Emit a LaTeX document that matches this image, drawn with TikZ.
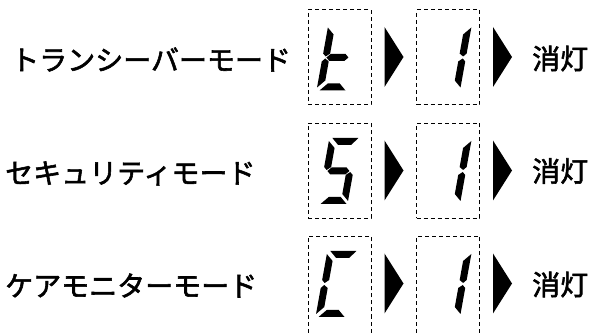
\documentclass[tikz,border=0pt]{standalone}
\usepackage{fontspec}
\newfontfamily\jpfont[FakeBold=2]{Noto Sans CJK JP}
\usetikzlibrary{positioning}

\tikzstyle{mode} = [anchor=west, inner sep=0pt, font=\jpfont\fontsize{28}{28}\selectfont]
\tikzstyle{off} = [anchor=west, inner sep=0pt, font=\jpfont\fontsize{28}{28}\selectfont]
\tikzstyle{lcdbox} = [rectangle, anchor=north, draw=black, line width=1pt,
                      dash pattern=on 4pt off 3pt, minimum width=63pt,
                      minimum height=95pt, inner sep=0pt]
\tikzstyle{lcdopen} = [lcdbox, minimum height=103pt]

% segments of one digit, 30 x 66, before the slant
\newcommand{\segA}{\fill (3,66) -- (29,66) -- (23,59) -- (10,59) -- cycle;}
\newcommand{\segB}{\fill (30,63) -- (30,37) -- (27,34) -- (23,37) -- (23,56) -- cycle;}
\newcommand{\segC}{\fill (30,29) -- (30,3) -- (23,10) -- (23,29) -- (27,32) -- cycle;}
\newcommand{\segD}{\fill (3,0) -- (29,0) -- (22,7) -- (10,7) -- cycle;}
\newcommand{\segE}{\fill (0,3) -- (0,29) -- (3,32) -- (7,29) -- (7,10) -- cycle;}
\newcommand{\segF}{\fill (0,63) -- (0,37) -- (3,34) -- (7,37) -- (7,56) -- cycle;}
\newcommand{\segG}{\fill (4,33) -- (7.5,36.5) -- (22.5,36.5) -- (26,33) -- (22.5,29.5) -- (7.5,29.5) -- cycle;}
% #1 box, #2 x offset from its top, #3 segments
\newcommand{\lcd}[3]{\begin{scope}[shift={([xshift=#2, yshift=-81pt]#1.north)}, xslant=0.18]
    #3
  \end{scope}}
\newcommand{\pointer}[1]{\fill ([xshift=13pt, yshift=-17.5pt]#1.north east)
    -- ([xshift=32pt, yshift=-47.5pt]#1.north east)
    -- ([xshift=13pt, yshift=-77.5pt]#1.north east) -- cycle;}

\begin{document}
\begin{tikzpicture}[x=1pt, y=1pt]
    \clip (0,0) rectangle (589,332);

    \node[mode] (trans) at (11,272.5) {トランシーバーモード};
    \node[mode] (secur) at (5,158.5) {セキュリティモード};
    \node[mode] (care) at (5,46.5) {ケアモニターモード};

    \node[lcdbox] (b1a) at (339.5,322.5) {};
    \node[lcdbox] (b2a) at (448,322.5) {};
    \node[lcdbox] (b1b) at (339.5,209) {};
    \node[lcdbox] (b2b) at (448,209) {};
    \node[lcdopen] (b1c) at (339.5,96) {};
    \node[lcdopen] (b2c) at (448,96) {};

    \lcd{b1a}{-23pt}{\segF\segG\segE\segD}
    \lcd{b2a}{-18pt}{\segB\segC}
    \lcd{b1b}{-22pt}{\segA\segF\segG\segC\segD}
    \lcd{b2b}{-18pt}{\segB\segC}
    \lcd{b1c}{-24pt}{\segA\segF\segE\segD}
    \lcd{b2c}{-18pt}{\segB\segC}

    \pointer{b1a} \pointer{b2a}
    \pointer{b1b} \pointer{b2b}
    \pointer{b1c} \pointer{b2c}

    \node[off] (offa) at (532,273.5) {消灯};
    \node[off] (offb) at (532,161) {消灯};
    \node[off] (offc) at (532,47.5) {消灯};
\end{tikzpicture}
\end{document}
